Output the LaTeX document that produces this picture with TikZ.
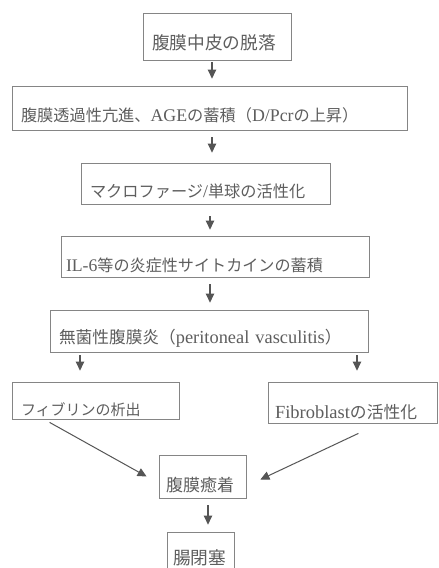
\documentclass[tikz,border=0pt]{standalone}
\usepackage{fontspec}
\setmainfont{Liberation Serif}[Scale=1.1]
\newfontfamily\cjk{Noto Sans CJK JP}
\newcommand\J[1]{{\cjk #1}}
\usetikzlibrary{arrows.meta}
\definecolor{txtc}{HTML}{5E5E5E}
\definecolor{boxc}{HTML}{858585}
\definecolor{arrc}{HTML}{555555}
\tikzset{
  bx/.style n args={6}{draw=boxc, line width=0.8pt, rectangle,
    minimum width=#1pt, minimum height=#2pt, inner xsep=#3pt, inner ysep=0pt,
    text width=#4pt, align=left, text height=#5pt, text depth=0pt,
    font=\fontsize{#6}{#6}\selectfont, text=txtc},
  arr/.style={draw=arrc, line width=1.1pt, -{Triangle[length=9pt,width=8.5pt]}, arrc}
}
\begin{document}
\begin{tikzpicture}[x=1pt, y=-1pt]
\useasboundingbox (0,0) rectangle (439,568);
\fill[white] (0,0) rectangle (439,568);
\node[bx={148}{47}{9}{130}{26.3}{17.7}] (b1) at (217,36.5) {\J{腹膜中皮の脱落}};
\node[bx={395}{44}{9}{377}{26.2}{16.2}] (b2) at (209.5,108) {\J{腹膜透過性亢進、}AGE\J{の蓄積（}D/Pcr\J{の上昇）}};
\node[bx={249}{41}{9}{231}{27.3}{16.2}] (b3) at (205.5,183.5) {\J{マクロファージ}/\J{単球の活性化}};
\node[bx={308}{41}{5}{298}{29.3}{16.1}] (b4) at (215,256.5) {IL-6\J{等の炎症性サイトカインの蓄積}};
\node[bx={318}{42}{9}{300}{24.7}{16.7}] (b5) at (209,331) {\J{無菌性腹膜炎（}peritoneal vasculitis\J{）}};
\node[bx={167}{37}{9}{149}{29.4}{15}] (b6) at (95.5,400.5) {\J{フィブリンの析出}};
\node[bx={169}{41}{7}{155}{31.8}{16.8}] (b7) at (352.5,402.5) {Fibroblast\J{の活性化}};
\node[bx={87}{43}{7}{73}{29.9}{17}] (b8) at (202.5,476.5) {\J{腹膜癒着}};
\node[bx={65}{58}{6}{55}{7.5}{17.7}] (b9) at (200.5,561) {\J{腸閉塞}};
\coordinate (xa) at (212,0);
\coordinate (xb) at (210,0);
\coordinate (xl) at (80,0);
\coordinate (xr) at (357,0);
\coordinate (xc) at (208,0);
\draw[arr, shorten <=2pt, shorten >=7pt] (xa |- b1.south) -- (xa |- b2.north);
\draw[arr, shorten <=7pt, shorten >=10pt] (xa |- b2.south) -- (xa |- b3.north);
\draw[arr, shorten <=12pt, shorten >=6pt] (xb |- b3.south) -- (xb |- b4.north);
\draw[arr, shorten <=7pt, shorten >=7pt] (xb |- b4.south) -- (xb |- b5.north);
\draw[arr, shorten <=3pt, shorten >=11pt] (xl |- b5.south) -- (xl |- b6.north);
\draw[arr, shorten <=3pt, shorten >=11pt] (xr |- b5.south) -- (xr |- b7.north);
\draw[arr, line width=1pt] ([xshift=38pt,yshift=-3pt]b6.south west) -- ([xshift=-12pt]b8.west);
\draw[arr, line width=1pt] ([xshift=-79pt,yshift=-10pt]b7.south east) -- ([xshift=14pt,yshift=-3pt]b8.east);
\draw[arr, shorten <=7pt, shorten >=7pt] (xc |- b8.south) -- (xc |- b9.north);
\end{tikzpicture}
\end{document}
